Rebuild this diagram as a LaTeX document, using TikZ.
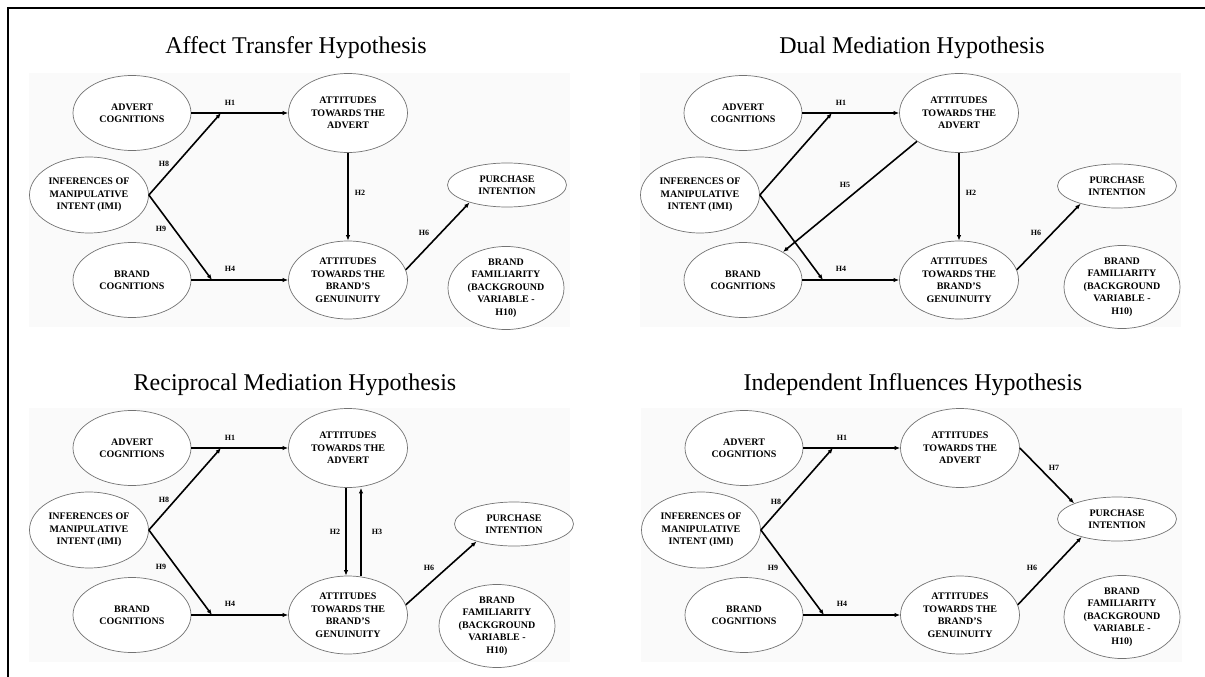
\documentclass[tikz,border=0pt]{standalone}
\usepackage{fontspec}
\setmainfont{Liberation Serif}
\usetikzlibrary{shapes.geometric,arrows.meta}

\tikzset{
  latent/.style={ellipse, draw=black!55, line width=0.7pt, fill=white, inner sep=0pt,
    align=center, font=\fontsize{10}{12.5}\selectfont\bfseries},
  path/.style={-{Latex[length=5.5pt,width=4.5pt]}, line width=1.6pt},
  hlabel/.style={font=\fontsize{8}{9}\selectfont\bfseries, inner sep=0pt},
  ttl/.style={font=\fontsize{24}{28}\selectfont, inner sep=0pt, anchor=base},
  panelbg/.style={fill=black!2, draw=none},
}

% The constructs shared by every model, placed relative to the panel origin;
% #2 and #3 place purchase intention and brand familiarity.
\newcommand\modelnodes[3]{%
  \fill[panelbg] (0,0) rectangle (541,254);
  \node[latent, minimum width=118pt, minimum height=75pt] (#1ac)  at (103,40)  {ADVERT\\COGNITIONS};
  \node[latent, minimum width=119pt, minimum height=79pt] (#1aa)  at (319,40)  {ATTITUDES\\TOWARDS THE\\ADVERT};
  \node[latent, minimum width=119pt, minimum height=76pt] (#1imi) at (60,122)  {INFERENCES OF\\MANIPULATIVE\\INTENT (IMI)};
  \node[latent, minimum width=119pt, minimum height=44pt] (#1pi)  at (#2) {PURCHASE\\INTENTION};
  \node[latent, minimum width=118pt, minimum height=75pt] (#1bc)  at (103,207) {BRAND\\COGNITIONS};
  \node[latent, minimum width=119pt, minimum height=78pt] (#1ab)  at (319,207) {ATTITUDES\\TOWARDS THE\\BRAND’S\\GENUINUITY};
  \node[latent, minimum width=116pt, minimum height=77pt] (#1bf)  at (#3) {BRAND\\FAMILIARITY\\(BACKGROUND\\VARIABLE -\\H10)};
  \coordinate (#1j1) at (192,40);
  \coordinate (#1j4) at (183,207);
  \draw[path] (#1ac) -- (#1aa);
  \draw[path] (#1bc) -- (#1ab);
  \draw[path] (#1imi.east) -- (#1j1);
  \draw[path] (#1imi.east) -- (#1j4);
  \node[hlabel] (#1h1) at (201,30) {H1};
  \node[hlabel] (#1h4) at (201,196) {H4};
}

\begin{document}
\begin{tikzpicture}[x=1pt,y=-1pt]
\useasboundingbox (0,0) rectangle (1205,677);
\draw[line width=2pt] (1205,8) -- (7.5,8) -- (7.5,677);

% Affect transfer
\node[ttl] (t1) at (296,54) {Affect Transfer Hypothesis};
\begin{scope}[shift={(29,73)}]
  \modelnodes{a}{478,112}{477,215}
  \draw[path] (aaa) -- (aab);
  \draw[path] (aab.10) -- (api.205);
  \node[hlabel] (ah8) at (135,91) {H8};
  \node[hlabel] (ah9) at (132,156) {H9};
  \node[hlabel] (ah2) at (331,120) {H2};
  \node[hlabel] (ah6) at (395,160) {H6};
\end{scope}

% Dual mediation
\node[ttl] (t2) at (912,54) {Dual Mediation Hypothesis};
\begin{scope}[shift={(640,73)}]
  \modelnodes{b}{477,113}{482,214}
  \draw[path] (baa) -- (bab);
  \draw[path] (baa.214) -- (bbc.35);
  \draw[path] (bab.10) -- (bpi.206);
  \node[hlabel] (bh5) at (205,112) {H5};
  \node[hlabel] (bh2) at (331,120) {H2};
  \node[hlabel] (bh6) at (396,160) {H6};
\end{scope}

% Reciprocal mediation
\node[ttl] (t3) at (295,390) {Reciprocal Mediation Hypothesis};
\begin{scope}[shift={(29,408)}]
  \modelnodes{c}{485,116}{468,218}
  \draw[path] ([xshift=-2pt]caa.south) -- ([xshift=-2pt]cab.north);
  \draw[path] ([xshift=13pt]cab.north) -- ([xshift=13pt]caa.south);
  \draw[path] (cab.10) -- (cpi.205);
  \node[hlabel] (ch8) at (135,92) {H8};
  \node[hlabel] (ch9) at (132,159) {H9};
  \node[hlabel] (ch2) at (306,124) {H2};
  \node[hlabel] (ch3) at (348,124) {H3};
  \node[hlabel] (ch6) at (400,160) {H6};
\end{scope}

% Independent influences
\node[ttl] (t4) at (913,390) {Independent Influences Hypothesis};
\begin{scope}[shift={(641,408)}]
  \modelnodes{d}{476,111}{481,209}
  \draw[path] (daa.east) -- (dpi.160);
  \draw[path] (dab.10) -- (dpi.207);
  \node[hlabel] (dh8) at (135,94) {H8};
  \node[hlabel] (dh9) at (132,160) {H9};
  \node[hlabel] (dh7) at (413,60) {H7};
  \node[hlabel] (dh6) at (391,160) {H6};
\end{scope}
\end{tikzpicture}
\end{document}
